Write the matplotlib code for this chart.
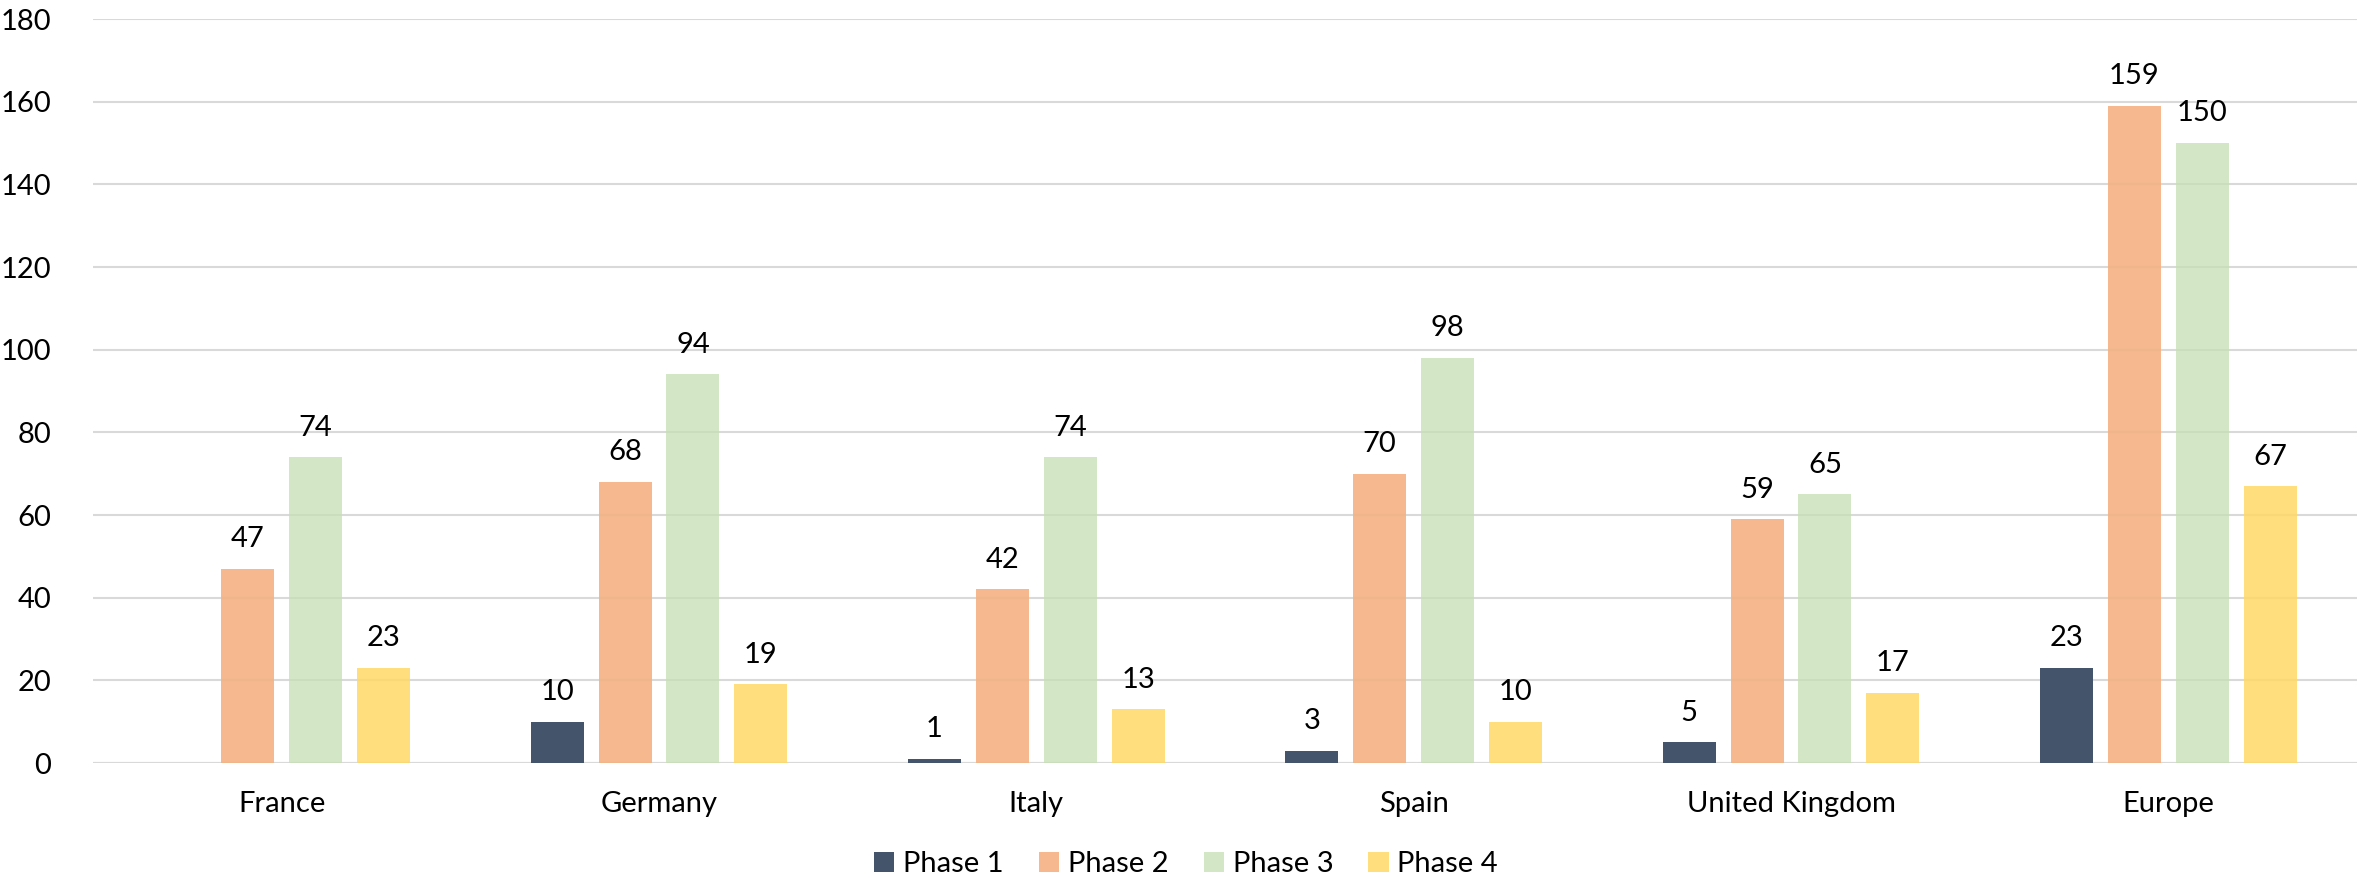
import matplotlib
matplotlib.use("Agg")
import matplotlib.pyplot as plt
import numpy as np

categories = ["France", "Germany", "Italy", "Spain", "United Kingdom", "Europe"]
series_names = ["Phase 1", "Phase 2", "Phase 3", "Phase 4"]
phase1 = [0, 10, 1, 3, 5, 23]
phase2 = [47, 68, 42, 70, 59, 159]
phase3 = [74, 94, 74, 98, 65, 150]
phase4 = [23, 19, 13, 10, 17, 67]
colors = ["#44546A", "#F4B183", "#C5E0B4", "#FFD966"]
alphas = [1.0, 0.9, 0.75, 0.85]

plt.rcParams["font.family"] = ["Lato", "DejaVu Sans"]

fig = plt.figure(figsize=(23.72, 8.8), dpi=100)
ax = fig.add_axes([93 / 2372, 1 - 763 / 880, (2357 - 93) / 2372, (763 - 19) / 880])

x = np.arange(len(categories))
pitch = 0.18
width = 0.1405
all_series = [phase1, phase2, phase3, phase4]
handles = []
for i, (vals, name) in enumerate(zip(all_series, series_names)):
    pos = x + (i - 1.5) * pitch
    bars = ax.bar(pos, vals, width, color=colors[i], alpha=alphas[i], label=name, zorder=1)
    handles.append(bars)
    for p, v in zip(pos, vals):
        if v > 0:
            ax.text(p, v + 4, str(v), ha="center", va="bottom", fontsize=21, color="#000000")

ax.set_xlim(-0.5, len(categories) - 0.5)
ax.set_ylim(0, 180)
ax.set_yticks(np.arange(0, 181, 20))
ax.yaxis.grid(True, color="#D9D9D9", linewidth=1.5, zorder=0)
ax.set_axisbelow(True)
ax.set_xticks(x)
ax.set_xticklabels(categories)
ax.tick_params(axis="both", length=0, labelsize=21, colors="#000000")
ax.tick_params(axis="x", pad=20)
ax.tick_params(axis="y", pad=30)
for s in ax.spines.values():
    s.set_visible(False)
ax.axhline(0, color="#D9D9D9", linewidth=1.5, zorder=0)

fig.legend(handles=handles, labels=series_names, loc="center", bbox_to_anchor=(0.5, 1 - 864 / 880),
           ncol=4, frameon=False, fontsize=21, handlelength=0.7, handleheight=0.7,
           handletextpad=0.3, columnspacing=1.2)

fig.savefig("out.png", dpi=100)
